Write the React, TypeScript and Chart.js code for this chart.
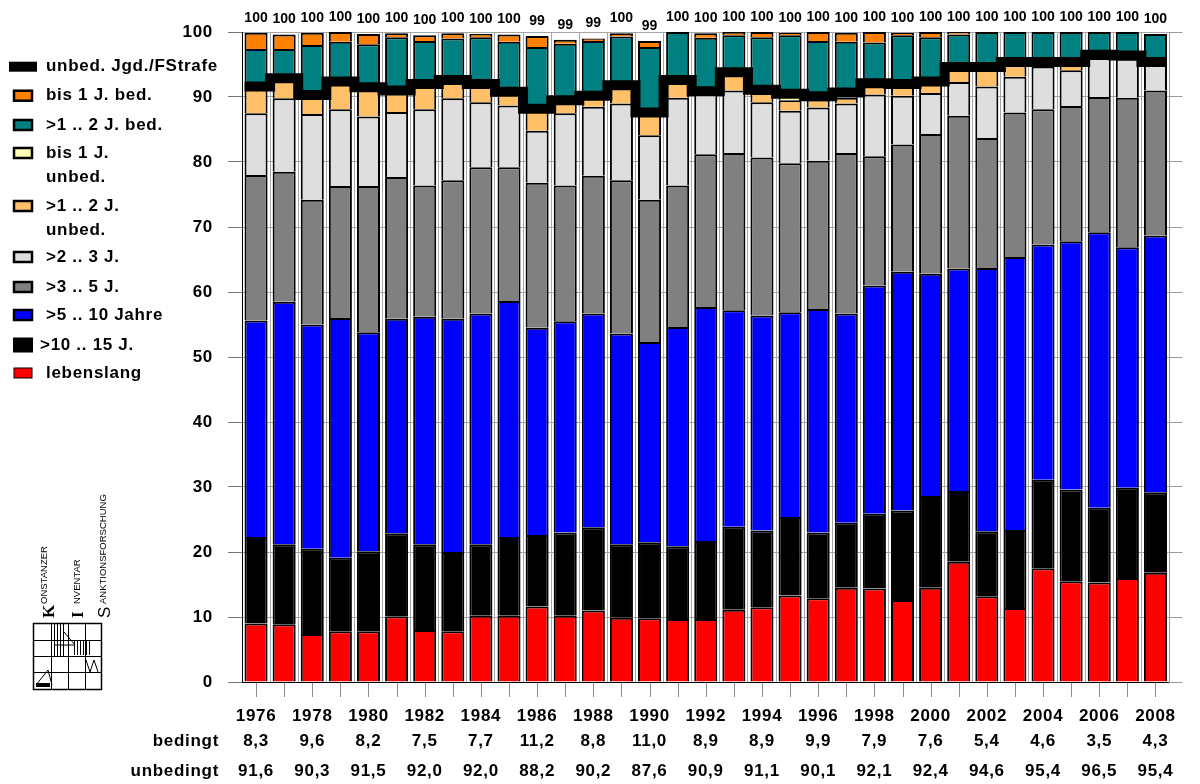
import React, { useEffect, useRef } from 'react';
import { Chart, registerables } from 'chart.js';

Chart.register(...registerables);

const FONT = "'Liberation Sans', Arial, sans-serif";

const years = [
  '1976', '1977', '1978', '1979', '1980', '1981', '1982', '1983', '1984', '1985',
  '1986', '1987', '1988', '1989', '1990', '1991', '1992', '1993', '1994', '1995',
  '1996', '1997', '1998', '1999', '2000', '2001', '2002', '2003', '2004', '2005',
  '2006', '2007', '2008',
];

const lebenslang = [9.0, 8.9, 7.4, 7.8, 7.8, 10.1, 8.0, 7.8, 10.2, 10.2, 11.6, 10.2, 11.0, 9.9, 9.8, 9.7, 9.7, 11.1, 11.5, 13.3, 12.9, 14.5, 14.4, 12.6, 14.5, 18.5, 13.2, 11.4, 17.5, 15.5, 15.3, 16.0, 16.8];
const j10bis15 = [13.3, 12.3, 13.1, 11.3, 12.3, 12.8, 13.2, 12.2, 11.0, 12.1, 11.0, 12.8, 12.8, 11.3, 11.7, 11.2, 12.0, 12.8, 11.8, 12.1, 10.1, 10.0, 11.5, 13.8, 14.1, 10.9, 10.0, 12.0, 13.6, 14.1, 11.5, 13.9, 12.4];
const j5bis10 = [33.3, 37.3, 34.5, 36.9, 33.7, 33.0, 35.0, 35.9, 35.5, 36.3, 31.9, 32.5, 32.9, 32.4, 30.8, 33.7, 36.0, 33.3, 33.1, 31.5, 34.4, 32.2, 35.1, 36.7, 34.2, 34.2, 40.5, 42.0, 36.2, 38.2, 42.4, 37.0, 39.5];
const j3bis5 = [22.4, 20.0, 19.2, 20.3, 22.5, 21.8, 20.2, 21.3, 22.5, 20.6, 22.3, 20.9, 21.2, 23.6, 21.9, 21.8, 23.5, 24.2, 24.3, 22.9, 22.8, 24.7, 19.9, 19.6, 21.5, 23.5, 20.0, 22.2, 20.8, 20.8, 20.8, 23.0, 22.3];
const j2bis3 = [9.5, 11.3, 13.2, 11.8, 10.7, 10.0, 11.7, 12.6, 10.0, 9.5, 8.0, 11.1, 10.6, 11.8, 9.9, 13.5, 9.4, 9.6, 8.5, 8.1, 8.2, 7.6, 9.5, 7.5, 6.3, 5.2, 7.9, 5.5, 6.6, 5.5, 6.0, 6.0, 4.1];
const j1bis2Unbed = [4.1, 3.1, 2.9, 4.3, 4.5, 3.3, 3.9, 2.8, 2.8, 2.1, 3.1, 1.8, 1.5, 2.8, 3.2, 2.7, 0.3, 2.8, 1.4, 1.6, 1.2, 0.9, 1.5, 1.6, 1.6, 2.3, 3.0, 1.8, 0.7, 1.3, 0.5, 0.5, 0.3];
const bis1Unbed = [0, 0, 0, 0, 0, 0, 0, 0, 0, 0, 0.3, 0.2, 0.2, 0, 0.3, 0, 0, 0, 0.5, 1.0, 0.5, 0.8, 0.2, 0.2, 0.2, 0, 0, 0.5, 0, 0, 0, 0, 0];
const j1bis2Bed = [5.8, 4.5, 7.7, 6.1, 6.6, 8.2, 6.6, 6.4, 7.2, 7.7, 9.5, 8.7, 8.4, 7.5, 10.1, 7.4, 8.2, 5.7, 8.1, 9.0, 8.5, 7.8, 6.3, 7.5, 6.8, 5.0, 5.4, 4.6, 4.6, 4.6, 3.5, 3.6, 4.3];
const bis1Bed = [2.5, 2.2, 1.9, 1.5, 1.6, 0.6, 0.9, 0.8, 0.5, 1.1, 1.7, 0.6, 0.4, 0.5, 0.9, 0, 0.7, 0.5, 0.8, 0.4, 1.4, 1.4, 1.6, 0.4, 0.8, 0.4, 0, 0, 0, 0, 0, 0, 0];

const unbedJgdFStrafe = [91.6, 92.9, 90.3, 92.4, 91.5, 91.0, 92.0, 92.6, 92.0, 90.8, 88.2, 89.5, 90.2, 91.8, 87.6, 92.6, 90.9, 93.8, 91.1, 90.5, 90.1, 90.7, 92.1, 92.0, 92.4, 94.6, 94.6, 95.4, 95.4, 95.4, 96.5, 96.4, 95.4];

const totalLabels = ['100', '100', '100', '100', '100', '100', '100', '100', '100', '100', '99', '99', '99', '100', '99', '100', '100', '100', '100', '100', '100', '100', '100', '100', '100', '100', '100', '100', '100', '100', '100', '100', '100'];

const tableYears = ['1976', '1978', '1980', '1982', '1984', '1986', '1988', '1990', '1992', '1994', '1996', '1998', '2000', '2002', '2004', '2006', '2008'];
const bedingtRow = ['8,3', '9,6', '8,2', '7,5', '7,7', '11,2', '8,8', '11,0', '8,9', '8,9', '9,9', '7,9', '7,6', '5,4', '4,6', '3,5', '4,3'];
const unbedingtRow = ['91,6', '90,3', '91,5', '92,0', '92,0', '88,2', '90,2', '87,6', '90,9', '91,1', '90,1', '92,1', '92,4', '94,6', '95,4', '96,5', '95,4'];
const rowNames = ['bedingt', 'unbedingt'];

const lineName = 'unbed. Jgd./FStrafe';
const seriesNames = ['lebenslang', '>10 .. 15 J.', '>5 .. 10 Jahre', '>3 .. 5 J.', '>2 .. 3 J.', '>1 .. 2 J. unbed.', 'bis 1 J. unbed.', '>1 .. 2 J. bed.', 'bis 1 J. bed.'];
const seriesData = [lebenslang, j10bis15, j5bis10, j3bis5, j2bis3, j1bis2Unbed, bis1Unbed, j1bis2Bed, bis1Bed];
const seriesColors = ['#ff0000', '#000000', '#0000ff', '#808080', '#dedede', '#ffc068', '#ffffb4', '#008080', '#ff8000'];

const LINE_WIDTH = 10;

// legend layout (top to bottom): line, then series reversed
const legendLines: string[][] = [
  ['unbed. Jgd./FStrafe'],
  ['bis 1 J. bed.'],
  ['>1 .. 2 J. bed.'],
  ['bis 1 J.', 'unbed.'],
  ['>1 .. 2 J.', 'unbed.'],
  ['>2 .. 3 J.'],
  ['>3 .. 5 J.'],
  ['>5 .. 10 Jahre'],
  ['>10 .. 15 J.'],
  ['lebenslang'],
];
const legendY = [66.7, 95.7, 125, 153, 206, 257, 287, 315, 345, 373];

function rotText(ctx: CanvasRenderingContext2D, text: string, x: number, y: number, font: string) {
  ctx.save();
  ctx.translate(x, y);
  ctx.rotate(-Math.PI / 2);
  ctx.font = font;
  ctx.textAlign = 'left';
  ctx.textBaseline = 'alphabetic';
  ctx.fillText(text, 0, 0);
  ctx.restore();
}

const extras = {
  id: 'extras',
  beforeLayout(chart: any) {
    chart.ctx.letterSpacing = '0.7px';
  },
  beforeDraw(chart: any) {
    chart.ctx.letterSpacing = '0.7px';
  },
  afterDatasetsDraw(chart: any) {
    // extend the step line out to the outer edges of the first and last bar
    const ctx: CanvasRenderingContext2D = chart.ctx;
    const lineMeta = chart.getDatasetMeta(0);
    const barMeta = chart.getDatasetMeta(1);
    const pts = lineMeta.data;
    if (!pts.length || !barMeta.data.length) return;
    const half = barMeta.data[0].width / 2;
    const first = pts[0];
    const lastPt = pts[pts.length - 1];
    ctx.save();
    ctx.strokeStyle = '#000';
    ctx.lineWidth = LINE_WIDTH;
    ctx.lineCap = 'butt';
    ctx.beginPath();
    ctx.moveTo(first.x - half, first.y);
    ctx.lineTo(first.x + 1, first.y);
    ctx.moveTo(lastPt.x - 1, lastPt.y);
    ctx.lineTo(lastPt.x + half, lastPt.y);
    ctx.stroke();
    ctx.restore();
  },
  afterDraw(chart: any) {
    const ctx: CanvasRenderingContext2D = chart.ctx;
    const xs = chart.scales.x;
    const ys = chart.scales.y;
    const bottom = chart.chartArea.bottom;
    ctx.save();

    // tick marks at bar centers
    ctx.strokeStyle = '#8a8a8a';
    ctx.lineWidth = 1;
    for (let i = 0; i < years.length; i++) {
      const x = Math.round(xs.getPixelForValue(i)) + 0.5;
      ctx.beginPath();
      ctx.moveTo(x, bottom + 1);
      ctx.lineTo(x, bottom + 15);
      ctx.stroke();
    }

    // totals above bars
    (ctx as any).letterSpacing = '0px';
    ctx.font = `bold 14px ${FONT}`;
    ctx.textAlign = 'center';
    ctx.textBaseline = 'middle';
    ctx.fillStyle = '#000';
    for (let i = 0; i < years.length; i++) {
      let total = 0;
      seriesData.forEach((arr) => { total += arr[i]; });
      const x = xs.getPixelForValue(i);
      const y = ys.getPixelForValue(total);
      ctx.fillText(totalLabels[i], x, y - 15);
    }

    // table rows
    (ctx as any).letterSpacing = '0.7px';
    ctx.font = `bold 17px ${FONT}`;
    ctx.textAlign = 'right';
    ctx.fillText(rowNames[0], 219, 741);
    ctx.fillText(rowNames[1], 219, 771);
    ctx.textAlign = 'center';
    tableYears.forEach((yr, k) => {
      const i = years.indexOf(yr);
      const x = xs.getPixelForValue(i);
      ctx.fillText(bedingtRow[k], x, 741);
      ctx.fillText(unbedingtRow[k], x, 771);
    });

    // legend
    ctx.textAlign = 'left';
    const legendColors = ['#000000', ...seriesColors.slice().reverse()];
    legendLines.forEach((lines, k) => {
      const yc = legendY[k];
      let tx = 46;
      if (k === 0) {
        ctx.fillStyle = '#000';
        ctx.fillRect(9, yc - 5, 28, 10);
      } else if (legendColors[k] === '#000000') {
        ctx.fillStyle = '#000';
        ctx.fillRect(13, yc - 7.5, 20, 15);
        tx = 40;
      } else {
        ctx.fillStyle = legendColors[k];
        ctx.fillRect(14, yc - 5, 18, 10);
        ctx.strokeStyle = '#000';
        ctx.lineWidth = k === legendLines.length - 1 ? 1 : 2.5;
        ctx.strokeRect(14, yc - 5, 18, 10);
      }
      ctx.fillStyle = '#000';
      lines.forEach((ln, j) => {
        ctx.fillText(ln, tx, yc + j * 24);
      });
    });

    // logo
    (ctx as any).letterSpacing = '0px';
    ctx.fillStyle = '#000';
    rotText(ctx, 'K', 54, 618, `bold 17px 'Liberation Serif', serif`);
    rotText(ctx, 'ONSTANZER', 47, 604, `9.5px ${FONT}`);
    rotText(ctx, 'I', 83, 618, `bold 17px 'Liberation Serif', serif`);
    rotText(ctx, 'NVENTAR', 80, 604, `9.5px ${FONT}`);
    rotText(ctx, 'S', 110, 618, `17px ${FONT}`);
    rotText(ctx, 'ANKTIONSFORSCHUNG', 106, 604, `9.5px ${FONT}`);
    ctx.strokeStyle = '#000';
    ctx.lineWidth = 1.5;
    ctx.strokeRect(33.5, 623.5, 68, 66);
    ctx.lineWidth = 1;
    [51, 68, 85].forEach((x) => {
      ctx.beginPath(); ctx.moveTo(x + 0.5, 624); ctx.lineTo(x + 0.5, 689); ctx.stroke();
    });
    [640, 656, 672].forEach((y) => {
      ctx.beginPath(); ctx.moveTo(34, y + 0.5); ctx.lineTo(101, y + 0.5); ctx.stroke();
    });
    for (let x = 54; x < 66; x += 3) {
      ctx.beginPath(); ctx.moveTo(x + 0.5, 624); ctx.lineTo(x + 0.5, 656); ctx.stroke();
    }
    for (let x = 74; x < 92; x += 3) {
      ctx.beginPath(); ctx.moveTo(x + 0.5, 640); ctx.lineTo(x + 0.5, 655); ctx.stroke();
    }
    ctx.beginPath(); ctx.moveTo(36, 685); ctx.lineTo(48, 670); ctx.lineTo(52, 685); ctx.stroke();
    ctx.beginPath(); ctx.moveTo(55, 645); ctx.lineTo(75, 645); ctx.lineTo(64, 632); ctx.stroke();
    ctx.beginPath(); ctx.moveTo(86, 660); ctx.lineTo(90, 672); ctx.lineTo(94, 660); ctx.lineTo(98, 672); ctx.stroke();
    ctx.fillRect(36, 683, 14, 4);

    ctx.restore();
  },
};

export default function App() {
  const ref = useRef<HTMLCanvasElement>(null);

  useEffect(() => {
    const canvas = ref.current;
    if (!canvas) return;
    const barDatasets = seriesNames.map((name, k) => ({
      type: 'bar' as const,
      label: name,
      data: seriesData[k],
      backgroundColor: seriesColors[k],
      borderColor: '#000000',
      borderWidth: 2,
      borderSkipped: 'start' as const,
      barPercentage: 0.82,
      categoryPercentage: 1,
      stack: 'bars',
      order: 1,
    }));
    const chart = new Chart(canvas, {
      type: 'bar',
      data: {
        labels: years,
        datasets: [
          {
            type: 'line' as const,
            label: lineName,
            data: unbedJgdFStrafe,
            borderColor: '#000000',
            backgroundColor: '#000000',
            borderWidth: LINE_WIDTH,
            stepped: 'middle' as const,
            pointRadius: 0,
            fill: false,
            stack: 'line',
            order: 0,
            borderCapStyle: 'butt' as const,
            borderJoinStyle: 'miter' as const,
          } as any,
          ...barDatasets,
        ],
      },
      options: {
        responsive: false,
        animation: false,
        devicePixelRatio: 1,
        layout: { padding: { top: 32, left: 0, right: 0, bottom: 0 } },
        plugins: {
          legend: { display: false },
          tooltip: { enabled: false },
        },
        scales: {
          x: {
            stacked: true,
            offset: true,
            grid: { offset: true, color: '#a6a6a6', drawTicks: false, lineWidth: 1 },
            border: { color: '#000000', width: 1 },
            ticks: {
              autoSkip: false,
              maxRotation: 0,
              padding: 24,
              color: '#000000',
              font: { family: FONT, size: 17, weight: 'bold' },
              callback: (_v: any, i: number) => (tableYears.includes(years[i]) ? years[i] : ''),
            },
            afterFit: (s: any) => { s.height = 102; },
          },
          y: {
            stacked: true,
            min: 0,
            max: 100,
            grid: { color: '#a6a6a6', tickLength: 14, tickColor: '#777777' },
            border: { color: '#000000', width: 1 },
            ticks: {
              stepSize: 10,
              padding: 15,
              color: '#000000',
              font: { family: FONT, size: 17, weight: 'bold' },
            },
            afterFit: (s: any) => { s.width = 242; },
          },
          y2: {
            position: 'right',
            min: 0,
            max: 100,
            grid: { drawOnChartArea: false, tickLength: 13, color: '#9a9a9a' },
            border: { color: '#9a9a9a', width: 1 },
            ticks: { stepSize: 10, display: false },
            afterFit: (s: any) => { s.width = 15; },
          },
        },
      } as any,
      plugins: [extras],
    });
    return () => chart.destroy();
  }, []);

  return (
    <div style={{ position: 'absolute', left: 0, top: 0, width: 1200, height: 784, background: '#fff' }}>
      <canvas ref={ref} width={1200} height={784} style={{ display: 'block', width: 1200, height: 784 }} />
    </div>
  );
}
